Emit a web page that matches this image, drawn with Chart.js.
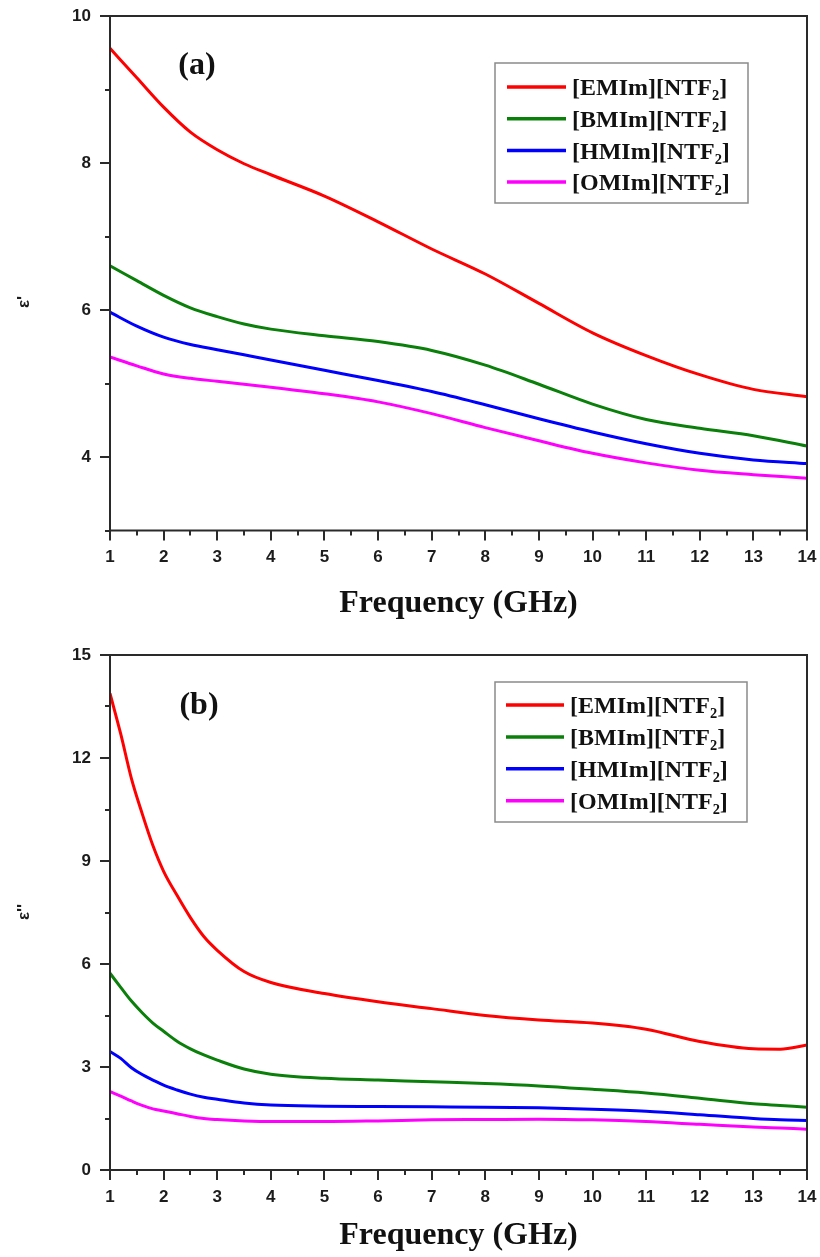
<!DOCTYPE html>
<html>
<head>
<meta charset="utf-8">
<title>Dielectric spectra of [RMIm][NTF2] ionic liquids</title>
<script src="https://cdn.jsdelivr.net/npm/chart.js@4/dist/chart.umd.min.js"></script>
<style>
  html, body { margin: 0; padding: 0; background: #ffffff; }
  #wrap { position: relative; width: 820px; height: 1257px; background: #ffffff; }
  .panel { position: absolute; left: 0; width: 820px; }
</style>
</head>
<body>
<div id="wrap">
  <div class="panel" style="top:0;height:625px"><canvas id="chartA" width="820" height="625"></canvas></div>
  <div class="panel" style="top:625px;height:632px"><canvas id="chartB" width="820" height="632"></canvas></div>
</div>
<script>
// ---------- data ----------
const SERIES_LABELS = ['[EMIm][NTF\u2082]', '[BMIm][NTF\u2082]', '[HMIm][NTF\u2082]', '[OMIm][NTF\u2082]'];

// (a) real permittivity ε' vs frequency (GHz)
const FREQ_A = [1, 1.5, 2, 2.5, 3, 3.5, 4, 5, 6, 7, 8, 9, 10, 11, 12, 13, 14];
const EPS1_EMIM = [9.56, 9.16, 8.76, 8.42, 8.18, 7.99, 7.84, 7.55, 7.20, 6.83, 6.49, 6.09, 5.69, 5.38, 5.12, 4.92, 4.82];
const EPS1_BMIM = [6.60, 6.40, 6.20, 6.03, 5.91, 5.81, 5.74, 5.65, 5.57, 5.45, 5.25, 4.99, 4.72, 4.51, 4.39, 4.29, 4.15];
const EPS1_HMIM = [5.97, 5.78, 5.63, 5.53, 5.46, 5.39, 5.32, 5.18, 5.04, 4.89, 4.71, 4.52, 4.34, 4.18, 4.05, 3.96, 3.91];
const EPS1_OMIM = [5.36, 5.24, 5.13, 5.07, 5.03, 4.99, 4.95, 4.86, 4.75, 4.59, 4.40, 4.22, 4.05, 3.92, 3.82, 3.76, 3.71];

// (b) imaginary permittivity ε'' vs frequency (GHz)
const FREQ_B = [1, 1.2, 1.4, 1.6, 1.8, 2, 2.25, 2.5, 2.75, 3, 3.5, 4, 5, 6, 7, 8, 9, 10, 11, 12, 13, 13.5, 14];
const EPS2_EMIM = [13.88, 12.70, 11.40, 10.38, 9.45, 8.70, 8.00, 7.35, 6.80, 6.40, 5.78, 5.46, 5.14, 4.90, 4.70, 4.50, 4.37, 4.28, 4.10, 3.74, 3.53, 3.52, 3.64];
const EPS2_BMIM = [5.73, 5.32, 4.92, 4.58, 4.28, 4.04, 3.75, 3.53, 3.35, 3.20, 2.94, 2.79, 2.67, 2.62, 2.57, 2.52, 2.45, 2.35, 2.24, 2.09, 1.93, 1.88, 1.83];
const EPS2_HMIM = [3.45, 3.25, 2.98, 2.78, 2.62, 2.47, 2.33, 2.21, 2.12, 2.06, 1.95, 1.89, 1.86, 1.85, 1.84, 1.83, 1.81, 1.77, 1.71, 1.61, 1.50, 1.46, 1.44];
const EPS2_OMIM = [2.28, 2.15, 2.01, 1.88, 1.78, 1.72, 1.64, 1.56, 1.50, 1.47, 1.43, 1.41, 1.41, 1.43, 1.46, 1.47, 1.48, 1.46, 1.41, 1.33, 1.25, 1.22, 1.19];

// tick labels
const X_TICKS = [1, 2, 3, 4, 5, 6, 7, 8, 9, 10, 11, 12, 13, 14];
const Y_TICKS_A = [4, 6, 8, 10];
const Y_TICKS_B = [0, 3, 6, 9, 12, 15];

// ---------- styling ----------
const SERIES_COLORS = ['#ff0000', '#0a800a', '#0000ff', '#ff00ff'];
const INK = '#1c1c1c';
const SANS = '"Liberation Sans", Arial, sans-serif';
const SERIF = '"Liberation Serif", "Times New Roman", serif';

function makeDatasets(freq, seriesList) {
  return seriesList.map((vals, i) => ({
    label: SERIES_LABELS[i],
    data: freq.map((f, k) => ({ x: f, y: vals[k] })),
    borderColor: SERIES_COLORS[i],
    backgroundColor: SERIES_COLORS[i],
    borderWidth: 3,
    pointRadius: 0,
    fill: false,
    cubicInterpolationMode: 'monotone',
    tension: 0.4
  }));
}

// frame, tick marks, panel letter, axis symbol and legend box
const decorPlugin = {
  id: 'decor',
  afterDatasetsDraw(chart, args, o) {
    const { ctx, chartArea: a, scales } = chart;
    ctx.save();
    ctx.strokeStyle = '#2a2a2a';
    ctx.lineWidth = 2;
    ctx.strokeRect(a.left, a.top, a.right - a.left, a.bottom - a.top);

    ctx.beginPath();
    const xs = scales.x, ys = scales.y;
    const xMaj = xs.ticks.map(t => t.value);
    const yMaj = ys.ticks.map(t => t.value);
    const tickX = (v, len) => { const p = Math.round(xs.getPixelForValue(v)); ctx.moveTo(p, a.bottom); ctx.lineTo(p, a.bottom + len); };
    const tickY = (v, len) => { const p = Math.round(ys.getPixelForValue(v)); ctx.moveTo(a.left, p); ctx.lineTo(a.left - len, p); };
    xMaj.forEach(v => tickX(v, 10));
    for (let i = 0; i < xMaj.length - 1; i++) tickX((xMaj[i] + xMaj[i + 1]) / 2, 5);
    yMaj.forEach(v => tickY(v, 10));
    const ystep = yMaj[1] - yMaj[0];
    for (let v = yMaj[0] - ystep / 2; v <= ys.max + 1e-9; v += ystep) {
      if (v >= ys.min - 1e-9) tickY(v, 5);
    }
    ctx.stroke();
    ctx.restore();
  },
  afterDraw(chart, args, o) {
    const { ctx } = chart;
    ctx.save();
    // panel letter
    ctx.fillStyle = '#111';
    ctx.font = 'bold 32px ' + SERIF;
    ctx.textAlign = 'center';
    ctx.textBaseline = 'middle';
    ctx.fillText(o.letter, o.letterX, o.letterY);

    // vertical axis symbol
    ctx.save();
    ctx.translate(o.symX, o.symY);
    ctx.rotate(-Math.PI / 2);
    ctx.font = 'bold 17px ' + SANS;
    ctx.fillStyle = INK;
    ctx.fillText(o.symbol, 0, 0);
    ctx.restore();

    // legend box
    const b = o.legend;
    ctx.strokeStyle = '#8a8a8a';
    ctx.lineWidth = 1.5;
    ctx.strokeRect(b.left, b.top, b.width, b.height);
    chart.data.datasets.forEach((ds, i) => {
      const y = b.firstRow + i * b.rowGap;
      ctx.strokeStyle = ds.borderColor;
      ctx.lineWidth = 3.5;
      ctx.beginPath();
      ctx.moveTo(b.lineX0, y);
      ctx.lineTo(b.lineX1, y);
      ctx.stroke();
      ctx.fillStyle = '#111';
      ctx.font = 'bold 24px ' + SERIF;
      ctx.textAlign = 'left';
      ctx.textBaseline = 'middle';
      ctx.fillText(ds.label, b.textX, y + 2);
    });
    ctx.restore();
  }
};

function buildChart(id, cfg) {
  return new Chart(document.getElementById(id), {
    type: 'line',
    data: { datasets: makeDatasets(cfg.freq, cfg.series) },
    options: {
      responsive: false,
      animation: false,
      devicePixelRatio: 1,
      layout: { padding: { top: cfg.padTop, right: 13, left: 0, bottom: 0 } },
      plugins: {
        legend: { display: false },
        tooltip: { enabled: false },
        decor: cfg.decor
      },
      scales: {
        x: {
          type: 'linear',
          min: 1, max: 14,
          afterBuildTicks: s => { s.ticks = X_TICKS.map(v => ({ value: v })); },
          afterFit: s => { s.height = cfg.xHeight; s.paddingLeft = 0; s.paddingRight = 0; },
          grid: { display: false, drawTicks: false },
          border: { display: false },
          ticks: {
            autoSkip: false, maxRotation: 0, padding: 17,
            color: INK, font: { family: SANS, weight: 'bold', size: 17 }
          },
          title: {
            display: true, text: 'Frequency (GHz)', color: '#111',
            font: { family: SERIF, weight: 'bold', size: 32 },
            padding: { top: 0, bottom: 2 }
          }
        },
        y: {
          type: 'linear',
          min: cfg.yMin, max: cfg.yMax,
          afterBuildTicks: s => { s.ticks = cfg.yTicks.map(v => ({ value: v })); },
          afterFit: s => { s.width = 110; s.paddingTop = 0; s.paddingBottom = 0; },
          grid: { display: false, drawTicks: false },
          border: { display: false },
          ticks: {
            autoSkip: false, padding: 19,
            color: INK, font: { family: SANS, weight: 'bold', size: 17 }
          }
        }
      }
    },
    plugins: [decorPlugin]
  });
}

buildChart('chartA', {
  freq: FREQ_A,
  series: [EPS1_EMIM, EPS1_BMIM, EPS1_HMIM, EPS1_OMIM],
  yMin: 3, yMax: 10, yTicks: Y_TICKS_A,
  padTop: 16, xHeight: 94.5,
  decor: {
    letter: '(a)', letterX: 197, letterY: 66,
    symbol: "\u03b5'", symX: 24, symY: 302,
    legend: { left: 495, top: 63, width: 253, height: 140, firstRow: 87, rowGap: 31.7, lineX0: 507, lineX1: 566, textX: 572 }
  }
});

buildChart('chartB', {
  freq: FREQ_B,
  series: [EPS2_EMIM, EPS2_BMIM, EPS2_HMIM, EPS2_OMIM],
  yMin: 0, yMax: 15, yTicks: Y_TICKS_B,
  padTop: 30, xHeight: 87,
  decor: {
    letter: '(b)', letterX: 199, letterY: 81,
    symbol: "\u03b5''", symX: 24, symY: 287,
    legend: { left: 495, top: 57, width: 252, height: 140, firstRow: 80, rowGap: 31.9, lineX0: 506, lineX1: 564, textX: 570 }
  }
});
</script>
</body>
</html>
